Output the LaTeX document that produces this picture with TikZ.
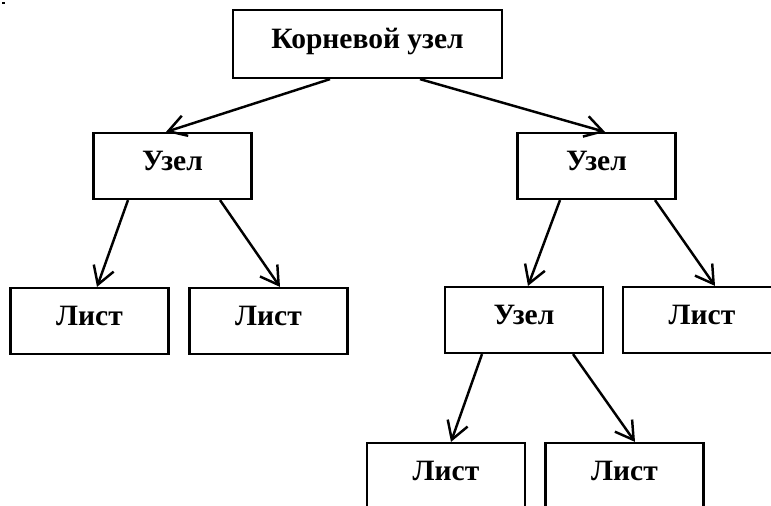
\documentclass[tikz,border=0pt]{standalone}
\usepackage{fontspec}
\setmainfont{Liberation Serif}
\usetikzlibrary{arrows.meta,calc}
\tikzset{
	treebox/.style={draw,line width=1.4pt,inner sep=0pt,minimum width=3.16cm,
		font=\fontsize{16.8}{19}\selectfont\bfseries,text height=21.5pt,text depth=15.9pt},
	rootbox/.style={treebox,minimum width=5.38cm,text height=21.6pt,text depth=17pt},
	treearrow/.style={line width=1.4pt,-{Straight Barb[length=10pt,width=12pt]}}
}
\begin{document}
\begin{tikzpicture}[x=0.02cm,y=-0.02cm]
	\clip (0,0) rectangle (771,506);
	\fill (2.5,2.5) rectangle (4.5,4.5);
	\node[rootbox] (root) at (367.5,44) {Корневой узел};
	\node[treebox] (uzelL) at (172.5,166) {Узел};
	\node[treebox] (uzelR) at (596.5,166) {Узел};
	\node[treebox] (uzelM) at (524,320) {Узел};
	\foreach \name/\x/\y in {listA/89.5/321, listB/268.5/321, listC/702/320, listD/446/476, listE/624.5/476}{
		\node[treebox] (\name) at (\x,\y) {Лист};
	}
	\foreach \a/\sa/\b/\sb in {root/-37.5/uzelL/-6.5, root/52.5/uzelR/8.5,
		uzelL/-44.5/listA/7.5, uzelL/47.5/listB/11.5,
		uzelR/-36.5/uzelM/4, uzelR/58.5/listC/13,
		uzelM/-42/listD/5, uzelM/49/listE/10.5}{
		\draw[treearrow] ($(\a.south)+(\sa,0)$) -- ($(\b.north)+(\sb,0)$);
	}
\end{tikzpicture}
\end{document}
